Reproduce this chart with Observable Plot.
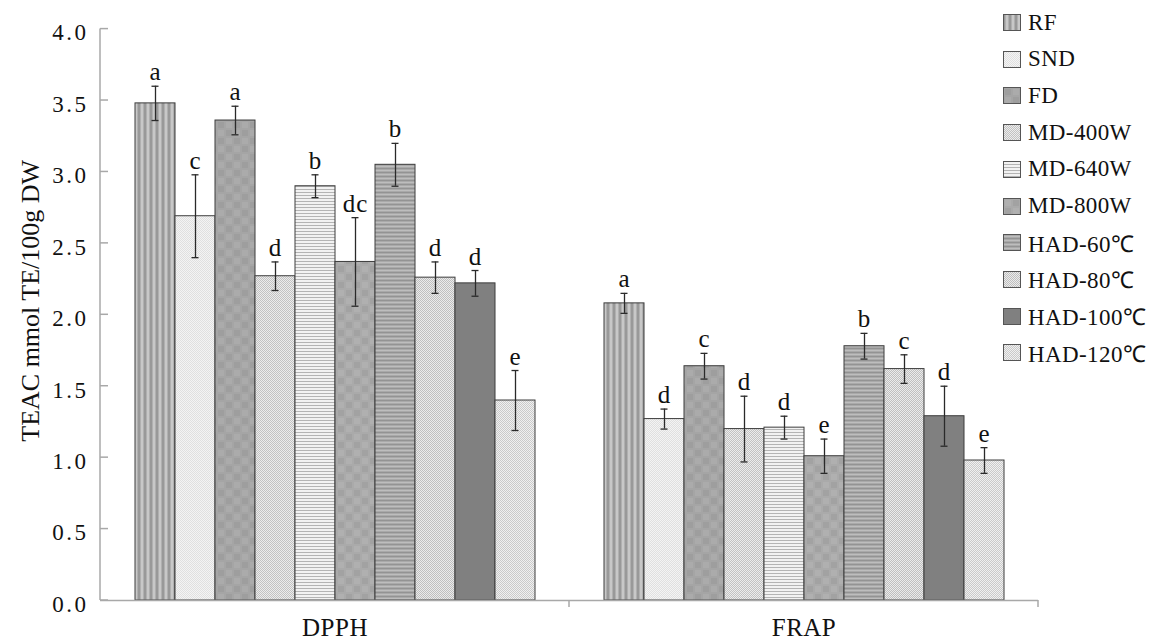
<!DOCTYPE html>
<html><head><meta charset="utf-8">
<script src="https://cdn.jsdelivr.net/npm/d3@7"></script>
<script src="https://cdn.jsdelivr.net/npm/@observablehq/plot@0.6"></script>
<style>
body{margin:0;background:#fff;}
#wrap{position:relative;width:1153px;height:641px;font-family:"Liberation Serif","Times New Roman",serif;}
#legend{position:absolute;left:1003px;top:0;}
.item{position:absolute;left:0;height:26px;display:flex;align-items:center;white-space:nowrap;font-size:23px;letter-spacing:0.4px;color:#111;font-family:"Liberation Serif","Times New Roman",serif;}
.item svg{margin-right:7px;flex:none;}
</style></head><body><div id="wrap"><div id="legend"></div></div>
<script>
// ---- data ----
const methods = ["RF","SND","FD","MD-400W","MD-640W","MD-800W","HAD-60℃","HAD-80℃","HAD-100℃","HAD-120℃"];
const assays = ["DPPH","FRAP"];
const dpphMean = [3.48,2.69,3.36,2.27,2.90,2.37,3.05,2.26,2.22,1.40];
const dpphErr  = [0.12,0.29,0.10,0.10,0.08,0.31,0.15,0.11,0.09,0.21];
const dpphLetters = ["a","c","a","d","b","dc","b","d","d","e"];
const frapMean = [2.08,1.27,1.64,1.20,1.21,1.01,1.78,1.62,1.29,0.98];
const frapErr  = [0.07,0.07,0.09,0.23,0.08,0.12,0.09,0.10,0.21,0.09];
const frapLetters = ["a","d","c","d","d","e","b","c","d","e"];
const yTicks = [0,0.5,1,1.5,2,2.5,3,3.5,4];
const yLabel = "TEAC mmol TE/100g DW";

const rows = [];
assays.forEach((a, ai) => methods.forEach((m, i) => rows.push({
  assay: a, method: m,
  value: ai ? frapMean[i] : dpphMean[i],
  err: ai ? frapErr[i] : dpphErr[i],
  letter: ai ? frapLetters[i] : dpphLetters[i]
})));

const serif = '"Liberation Serif","Times New Roman",serif';
const patIds = methods.map((m, i) => "pat" + i);
const fmt = d3.format(".1f");

const chart = Plot.plot({
  width: 1153, height: 641,
  marginLeft: 100, marginRight: 115, marginTop: 28.6, marginBottom: 41,
  style: {fontFamily: serif, fontSize: "22px", color: "#111", background: "#fff"},
  fx: {domain: assays, padding: 0, label: null},
  x: {domain: methods, paddingInner: 0, paddingOuter: 0.748, axis: null},
  y: {domain: [0, 4]},
  color: {type: "ordinal", domain: methods, range: patIds.map(id => `url(#${id})`)},
  marks: [
    Plot.barY(rows, {fx: "assay", x: "method", y: "value", fill: "method", stroke: "#3c3c3c", strokeWidth: 1}),
    Plot.ruleY([0], {stroke: "#a8a8a8", strokeWidth: 1.5}),
    Plot.ruleX(rows, {fx: "assay", x: "method", y1: d => d.value - d.err, y2: d => d.value + d.err, stroke: "#2a2a2a", strokeWidth: 1.3}),
    Plot.tickY(rows, {fx: "assay", x: "method", y: d => d.value + d.err, stroke: "#2a2a2a", strokeWidth: 1.3, insetLeft: 16.5, insetRight: 16.5}),
    Plot.tickY(rows, {fx: "assay", x: "method", y: d => d.value - d.err, stroke: "#2a2a2a", strokeWidth: 1.3, insetLeft: 16.5, insetRight: 16.5}),
    Plot.text(rows, {fx: "assay", x: "method", y: d => d.value + d.err, text: "letter", dy: -14, fontSize: 25, fontFamily: serif, fill: "#111"}),
    Plot.axisY({ticks: yTicks, tickFormat: fmt, tickSize: 0, tickPadding: 12, dy: 4, fontSize: 22, fontFamily: serif,
      label: yLabel, labelAnchor: "center", labelArrow: "none", labelOffset: 80}),
    Plot.axisFx({anchor: "bottom", tickSize: 0, tickPadding: 18, fontSize: 25, fontFamily: serif, label: null})
  ]
});

const svgNode = chart.tagName.toLowerCase() === "svg" ? chart : chart.querySelector("svg");
document.getElementById("wrap").insertBefore(chart, document.getElementById("legend"));
const svg = d3.select(svgNode);
svg.style("position", "absolute").style("left", "0px").style("top", "0px");

// patterns
const defs = svg.insert("defs", ":first-child");
function pattern(id, w, h, rects) {
  const p = defs.append("pattern").attr("id", id).attr("patternUnits", "userSpaceOnUse")
    .attr("width", w).attr("height", h);
  rects.forEach(([x, y, rw, rh, c]) => p.append("rect").attr("x", x).attr("y", y)
    .attr("width", rw).attr("height", rh).attr("fill", c).attr("shape-rendering", "crispEdges"));
}
function checker(id, s, a, b) {
  pattern(id, 2 * s, 2 * s, [[0,0,2*s,2*s,a],[0,0,s,s,b],[s,s,s,s,b]]);
}
pattern("pat0", 6, 2, [[0,0,6,2,"#b0b0b0"],[0,0,2,2,"#999"],[3,0,2,2,"#c8c8c8"]]);
checker("pat1", 1, "#f4f4f4", "#e0e0e0");
pattern("pat2", 16, 16, [[0,0,16,16,"#a5a5a5"],[2,2,6,6,"#9e9e9e"],[10,10,6,6,"#9e9e9e"],[10,2,6,6,"#ababab"],[2,10,6,6,"#ababab"]]);
checker("pat3", 1, "#ececec", "#c2c2c2");
pattern("pat4", 2, 3, [[0,0,2,3,"#f2f2f2"],[0,0,2,1,"#b4b4b4"]]);
pattern("pat5", 16, 16, [[0,0,16,16,"#aaaaaa"],[2,10,6,6,"#a2a2a2"],[10,2,6,6,"#a2a2a2"],[2,2,6,6,"#b0b0b0"],[10,10,6,6,"#b0b0b0"]]);
pattern("pat6", 2, 4, [[0,0,2,4,"#a9a9a9"],[0,0,2,1,"#939393"],[0,2,2,1,"#bdbdbd"]]);
checker("pat7", 1, "#ebebeb", "#bfbfbf");
pattern("pat8", 4, 4, [[0,0,4,4,"#808080"]]);
checker("pat9", 1, "#f0f0f0", "#cacaca");

// axis decorations derived from Plot's scales
const ys = chart.scale("y"), fxs = chart.scale("fx");
const yMap = ys.apply ? ys.apply : (v => ys.range[0] + (v - ys.domain[0]) / (ys.domain[1] - ys.domain[0]) * (ys.range[1] - ys.range[0]));
const x0 = 100; // frame left edge (marginLeft)
const deco = svg.append("g").attr("stroke", "#a8a8a8").attr("stroke-width", 1.5);
deco.append("line").attr("x1", x0).attr("x2", x0).attr("y1", yMap(4)).attr("y2", yMap(0));
yTicks.forEach(t => deco.append("line").attr("x1", x0).attr("x2", x0 + 8).attr("y1", yMap(t)).attr("y2", yMap(t)));
const fxApply = fxs.apply ? fxs.apply : (v => x0 + assays.indexOf(v) * fxs.step);
const bw = fxs.bandwidth;
assays.forEach(a => {
  const xe = fxApply(a) + bw;
  deco.append("line").attr("x1", xe).attr("x2", xe).attr("y1", yMap(0)).attr("y2", yMap(0) + 7);
});

// text tweaks (matched by content)
const tickStrings = new Set(yTicks.map(fmt));
const letterSet = new Set([...dpphLetters, ...frapLetters]);
svg.selectAll("text").each(function() {
  const t = this.textContent;
  const el = d3.select(this);
  if (t === yLabel) {
    el.style("font-size", "26px").attr("dx", 14);
  } else if (tickStrings.has(t)) {
    el.style("font-size", "23px").attr("letter-spacing", 2.5);
  } else if (assays.includes(t)) {
    el.attr("letter-spacing", 0.5);
  } else if (letterSet.has(t)) {
    el.attr("letter-spacing", 1);
  }
});

// legend
const legend = d3.select("#legend");
methods.forEach((m, i) => {
  const it = legend.append("div").attr("class", "item").style("top", (22.5 + 36.7 * i - 13) + "px");
  const s = it.append("svg").attr("width", 18).attr("height", 17);
  s.append("rect").attr("x", 0.5).attr("y", 0.5).attr("width", 17).attr("height", 16)
    .attr("fill", `url(#${patIds[i]})`).attr("stroke", "#555");
  it.append("span").text(m);
});
</script></body></html>
